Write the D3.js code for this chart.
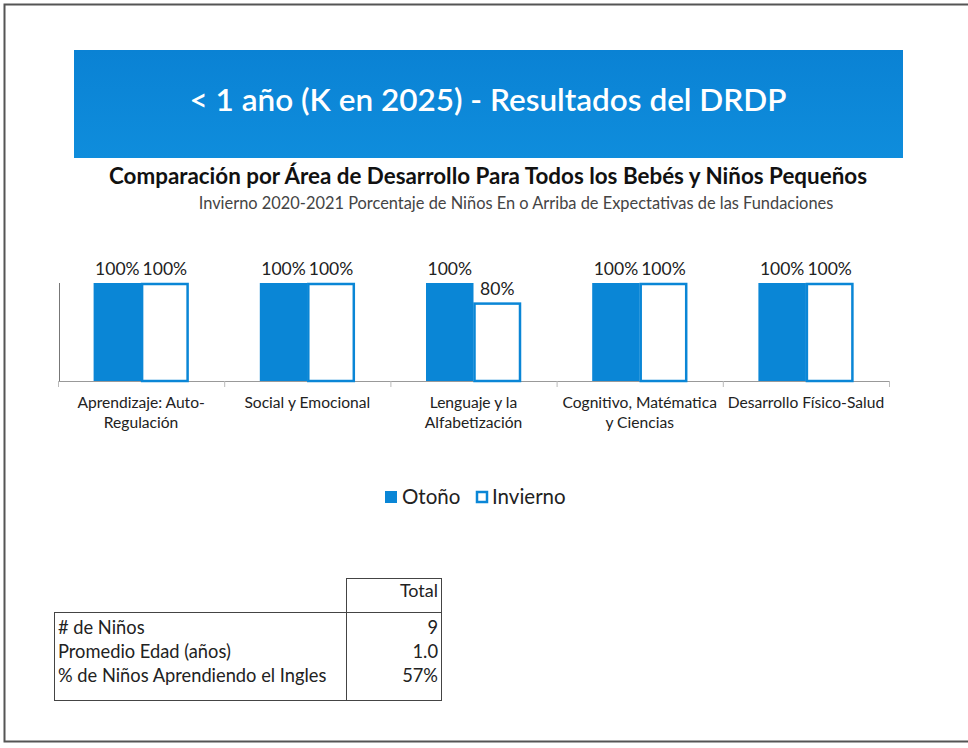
<!DOCTYPE html>
<html>
<head>
<meta charset="utf-8">
<script src="https://cdn.jsdelivr.net/npm/d3@7"></script>
<style>
  html, body { margin: 0; padding: 0; background: #fff; }
  svg { display: block; font-family: Lato, "Open Sans", sans-serif; }
</style>
</head>
<body>
<div id="chart"></div>
<script>
// DRDP results slide: grouped bars (Otoño vs Invierno) + small summary table
const W = 968, H = 748;

const categories = [
  ["Aprendizaje: Auto-", "Regulación"],
  ["Social y Emocional"],
  ["Lenguaje y la", "Alfabetización"],
  ["Cognitivo, Matématica", "y Ciencias"],
  ["Desarrollo Físico-Salud"]
];
const series = ["Otoño", "Invierno"];
const otono    = [1.00, 1.00, 1.00, 1.00, 1.00];
const invierno = [1.00, 1.00, 0.80, 1.00, 1.00];

const tableRows   = ["# de Niños", "Promedio Edad (años)", "% de Niños Aprendiendo el Ingles"];
const tableTotals = ["9", "1.0", "57%"];

const blue = "#0a86d6";

const svg = d3.select("#chart").append("svg").attr("width", W).attr("height", H);

// page frame
svg.append("path")
  .attr("d", `M${W + 2},4.5 H4.5 V741.5 H${W + 2}`)
  .attr("fill", "none").attr("stroke", "#555").attr("stroke-width", 2);

// banner
const grad = svg.append("defs").append("linearGradient")
  .attr("id", "bannerGrad").attr("x1", 0).attr("x2", 0).attr("y1", 0).attr("y2", 1);
grad.append("stop").attr("offset", "0%").attr("stop-color", "#0a82d4");
grad.append("stop").attr("offset", "100%").attr("stop-color", "#0f8ddc");
svg.append("rect").attr("x", 74).attr("y", 50).attr("width", 829).attr("height", 108)
  .attr("fill", "url(#bannerGrad)");
svg.append("text").attr("x", 488).attr("y", 111).attr("text-anchor", "middle")
  .attr("fill", "#fff").attr("font-size", 31.5).attr("font-weight", 600)
  .text("< 1 año (K en 2025) - Resultados del DRDP");

// titles
svg.append("text").attr("x", 488).attr("y", 184).attr("text-anchor", "middle")
  .attr("fill", "#111").attr("font-size", 22.4).attr("font-weight", 700)
  .text("Comparación por Área de Desarrollo Para Todos los Bebés y Niños Pequeños");
svg.append("text").attr("x", 516).attr("y", 209).attr("text-anchor", "middle")
  .attr("fill", "#444").attr("font-size", 16.4)
  .text("Invierno 2020-2021 Porcentaje de Niños En o Arriba de Expectativas de las Fundaciones");

// scales
const x0 = d3.scaleBand().domain(d3.range(categories.length)).range([58, 889]).padding(0);
const groupW = 95;
const x1 = d3.scaleBand().domain(series).range([0, groupW]);
const y = d3.scaleLinear().domain([0, 1]).range([381, 283]);

const data = categories.map((c, i) => ({ i, label: c, vals: [otono[i], invierno[i]] }));

const g = svg.append("g");

// axes
g.append("line").attr("x1", 59.5).attr("x2", 59.5).attr("y1", y(1)).attr("y2", y(0))
  .attr("stroke", "#777").attr("stroke-width", 1);
g.append("line").attr("x1", 58).attr("x2", 889).attr("y1", y(0) + 0.5).attr("y2", y(0) + 0.5)
  .attr("stroke", "#999").attr("stroke-width", 1);
g.selectAll("line.tick").data(d3.range(categories.length + 1)).join("line")
  .attr("class", "tick")
  .attr("x1", d => d < categories.length ? x0(d) + 0.5 : 889.5)
  .attr("x2", d => d < categories.length ? x0(d) + 0.5 : 889.5)
  .attr("y1", y(0)).attr("y2", y(0) + 6)
  .attr("stroke", "#bbb");

const groups = g.selectAll("g.grp").data(data).join("g")
  .attr("class", "grp")
  .attr("transform", d => `translate(${x0(d.i) + (x0.bandwidth() - groupW) / 2},0)`);

groups.selectAll("rect").data(d => d.vals.map((v, k) => ({ v, s: series[k] }))).join("rect")
  .attr("x", d => x1(d.s) + (d.s === "Invierno" ? 1 : 0))
  .attr("y", d => y(d.v) + (d.s === "Invierno" ? 1 : 0))
  .attr("width", d => x1.bandwidth() - (d.s === "Invierno" ? 2 : 0))
  .attr("height", d => y(0) - y(d.v) - (d.s === "Invierno" ? 1 : 0))
  .attr("fill", d => d.s === "Otoño" ? blue : "#fff")
  .attr("stroke", d => d.s === "Otoño" ? "none" : blue)
  .attr("stroke-width", 2.5);

groups.selectAll("text.val").data(d => d.vals.map((v, k) => ({ v, s: series[k] }))).join("text")
  .attr("class", "val")
  .attr("x", d => x1(d.s) + x1.bandwidth() / 2)
  .attr("y", d => y(d.v) - 8)
  .attr("text-anchor", "middle").attr("font-size", 17.5).attr("fill", "#222")
  .text(d => d3.format(".0%")(d.v));

// category labels
g.selectAll("text.cat").data(data).join("text")
  .attr("class", "cat")
  .attr("x", d => x0(d.i) + x0.bandwidth() / 2)
  .attr("y", 408)
  .attr("text-anchor", "middle").attr("font-size", 15.6).attr("fill", "#222")
  .selectAll("tspan").data(d => d.label).join("tspan")
  .attr("x", function () { return d3.select(this.parentNode).attr("x"); })
  .attr("dy", (d, k) => k === 0 ? 0 : 20)
  .text(d => d);

// legend
const leg = svg.append("g").attr("transform", "translate(385,491)");
leg.append("rect").attr("width", 12).attr("height", 12).attr("fill", blue);
leg.append("text").attr("x", 17).attr("y", 13).attr("font-size", 20.5).attr("fill", "#222").text(series[0]);
leg.append("rect").attr("x", 92).attr("y", 1).attr("width", 10).attr("height", 10)
  .attr("fill", "#fff").attr("stroke", blue).attr("stroke-width", 2.5);
leg.append("text").attr("x", 107).attr("y", 13).attr("font-size", 20.5).attr("fill", "#222").text(series[1]);

// summary table
const t = svg.append("g").attr("fill", "none").attr("stroke", "#444").attr("stroke-width", 1);
t.append("rect").attr("x", 346.5).attr("y", 578.5).attr("width", 95).attr("height", 34);
t.append("rect").attr("x", 54.5).attr("y", 612.5).attr("width", 387).attr("height", 88);
t.append("line").attr("x1", 346.5).attr("x2", 346.5).attr("y1", 612.5).attr("y2", 700.5);

svg.append("text").attr("x", 438).attr("y", 597).attr("text-anchor", "end")
  .attr("font-size", 18).attr("fill", "#222").text("Total");
svg.selectAll("text.rowlab").data(tableRows).join("text")
  .attr("class", "rowlab").attr("x", 58).attr("y", (d, i) => 634 + i * 24)
  .attr("font-size", 18.3).attr("fill", "#222").text(d => d);
svg.selectAll("text.rowval").data(tableTotals).join("text")
  .attr("class", "rowval").attr("x", 438).attr("y", (d, i) => 634 + i * 24)
  .attr("text-anchor", "end").attr("font-size", 18.3).attr("fill", "#222").text(d => d);
</script>
</body>
</html>
